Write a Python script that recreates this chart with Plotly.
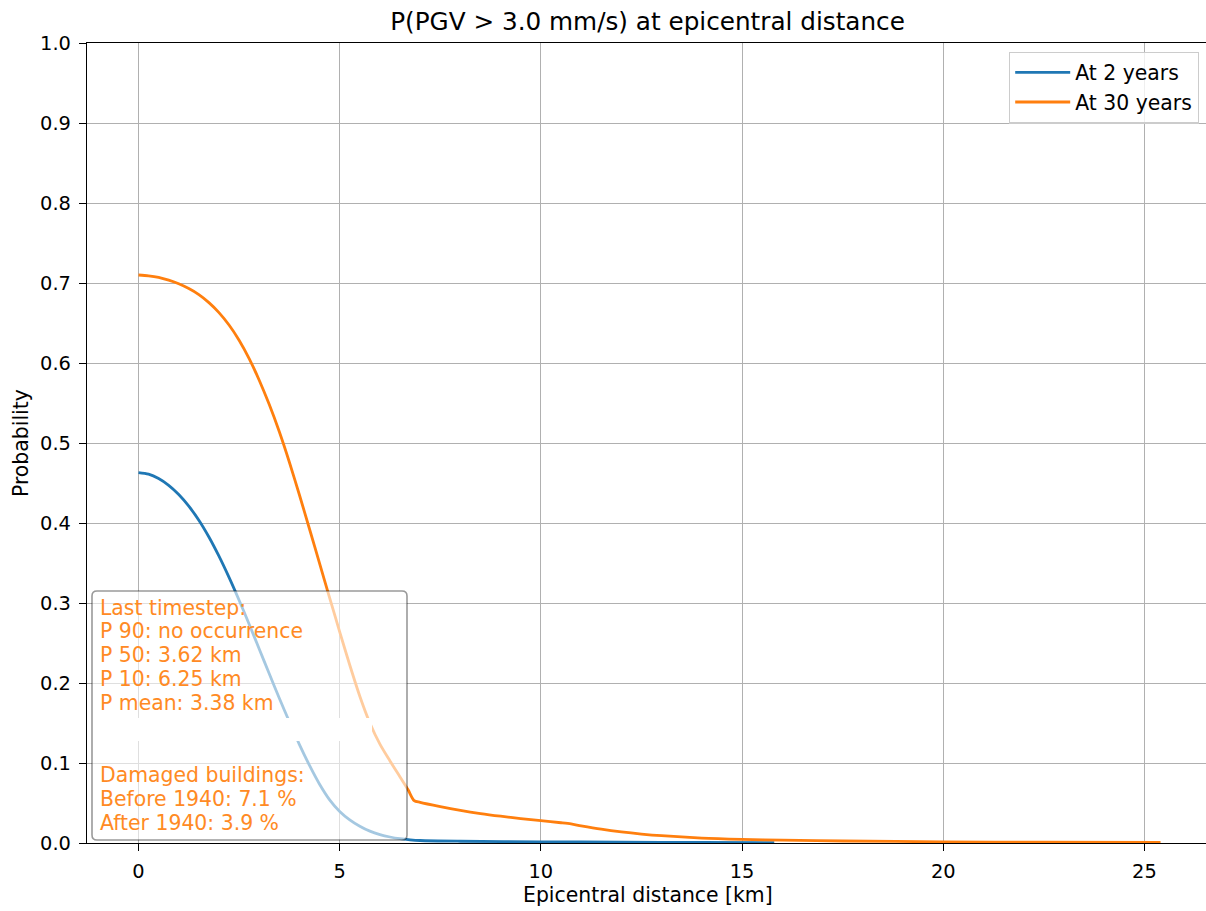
import plotly.graph_objects as go

# ---- data ----
distance_2y = [0, 0.25, 0.5, 0.75, 1.0, 1.25, 1.5, 1.75, 2.0, 2.25, 2.5, 2.75, 3.0, 3.25,
               3.5, 3.75, 4.0, 4.25, 4.5, 4.75, 5.0, 5.25, 5.5, 5.75, 6.0, 6.25, 6.5,
               6.75, 7.0, 8.0, 10.0, 12.0, 14.0, 15.8]
prob_2y = [0.463, 0.461, 0.4555, 0.447, 0.4355, 0.421, 0.4035, 0.3825, 0.3585, 0.332,
           0.3035, 0.2735, 0.2425, 0.2115, 0.181, 0.1515, 0.123, 0.097, 0.0735, 0.054,
           0.0395, 0.029, 0.021, 0.0148, 0.0105, 0.0075, 0.0054, 0.0040, 0.0031, 0.0022,
           0.0015, 0.0010, 0.0007, 0.0005]

distance_30y = [0, 0.25, 0.5, 0.75, 1.0, 1.25, 1.5, 1.75, 2.0, 2.25, 2.5, 2.75, 3.0, 3.25,
                3.5, 3.75, 4.0, 4.25, 4.5, 4.75, 5.0, 5.25, 5.5, 5.75, 6.0, 6.25, 6.5,
                6.7, 6.85, 7.0, 7.5, 8.0, 8.5, 9.0, 9.5, 10.0, 10.5, 10.75, 11.0, 11.5,
                12.0, 12.5, 13.0, 14.0, 15.0, 16.0, 17.5, 20.0, 22.5, 25.4]
prob_30y = [0.710, 0.709, 0.707, 0.7035, 0.699, 0.693, 0.6855, 0.6755, 0.663, 0.6475,
            0.6285, 0.6055, 0.5785, 0.548, 0.514, 0.476, 0.435, 0.3925, 0.3495, 0.3065,
            0.264, 0.2225, 0.1835, 0.150, 0.1235, 0.1025, 0.0825, 0.0665, 0.053, 0.0508,
            0.0455, 0.0408, 0.0368, 0.0335, 0.0306, 0.0279, 0.0253, 0.0238, 0.0215,
            0.0173, 0.0139, 0.0112, 0.0091, 0.0062, 0.0046, 0.0036, 0.0025, 0.0015,
            0.0010, 0.0007]

series_names = ["At 2 years", "At 30 years"]
x_ticks = [0, 5, 10, 15, 20, 25]
y_ticks = [0.0, 0.1, 0.2, 0.3, 0.4, 0.5, 0.6, 0.7, 0.8, 0.9, 1.0]

box_lines_top = ["Last timestep:", "P 90: no occurrence", "P 50: 3.62 km",
                 "P 10: 6.25 km", "P mean: 3.38 km"]
box_lines_bottom = ["Damaged buildings:", "Before 1940: 7.1 %", "After 1940: 3.9 %"]

title_text = "P(PGV > 3.0 mm/s) at epicentral distance"
x_label = "Epicentral distance [km]"
y_label = "Probability"

# ---- geometry (pixels) ----
W, H = 1206, 911
L, R, T, B = 87, 0, 43, 68
PW, PH = W - L - R, H - T - B


def px(xp):
    return (xp - L) / PW


def py(yp):
    return (H - B - yp) / PH


FONT = "DejaVu Sans"
FS_TICK = 19.4
FS = 20.4
BLUE = "#1f77b4"
ORANGE = "#ff7f0e"

fig = go.Figure()
fig.add_trace(go.Scatter(x=distance_2y, y=prob_2y, mode="lines", name=series_names[0],
                         line=dict(color=BLUE, width=2.8, shape="spline", smoothing=0.8)))
fig.add_trace(go.Scatter(x=distance_30y, y=prob_30y, mode="lines", name=series_names[1],
                         line=dict(color=ORANGE, width=2.8, shape="spline", smoothing=0.8)))

axis_common = dict(showgrid=True, gridcolor="#b0b0b0", gridwidth=1.2, zeroline=False,
                   showline=True, linecolor="black", linewidth=1.4,
                   ticks="outside", ticklen=7, tickwidth=1.4, tickcolor="black",
                   tickfont=dict(family=FONT, size=FS_TICK, color="black"))

fig.update_xaxes(range=[-1.28, 26.53], tickvals=x_ticks, mirror=True,
                 ticklabelstandoff=4, **axis_common)
fig.update_yaxes(range=[0, 1], tickvals=y_ticks, tickformat=".1f", mirror=False,
                 ticklabelstandoff=4, **axis_common)

# text box with rounded corners (semi-transparent white)
x0, x1 = px(92), px(407)
y0, y1 = py(840), py(591)
rx, ry = 5 / PW, 5 / PH
path = (f"M {x0+rx},{y0} L {x1-rx},{y0} Q {x1},{y0} {x1},{y0+ry} "
        f"L {x1},{y1-ry} Q {x1},{y1} {x1-rx},{y1} L {x0+rx},{y1} "
        f"Q {x0},{y1} {x0},{y1-ry} L {x0},{y0+ry} Q {x0},{y0} {x0+rx},{y0} Z")
shapes = [
    dict(type="path", xref="paper", yref="paper", path=path, layer="above",
         fillcolor="rgba(255,255,255,0.6)", line=dict(color="rgba(0,0,0,0.4)", width=1.6)),
    dict(type="rect", xref="paper", yref="paper", x0=px(96), x1=px(372),
         y0=py(741), y1=py(718), layer="above", fillcolor="white", line=dict(width=0)),
]

annotations = []
line_h = 23.9
first_center = 607.5
all_lines = box_lines_top + ["", ""] + box_lines_bottom
for i, txt in enumerate(all_lines):
    if not txt:
        continue
    annotations.append(dict(text=txt, xref="paper", yref="paper", x=px(97.5),
                            y=py(first_center + i * line_h), xanchor="left", yanchor="middle",
                            showarrow=False, align="left",
                            font=dict(family=FONT, size=FS, color="#ff8a24")))

annotations.append(dict(text=x_label, xref="paper", yref="paper", x=px(648), y=py(895),
                        xanchor="center", yanchor="middle", showarrow=False,
                        font=dict(family=FONT, size=FS, color="black")))
annotations.append(dict(text=y_label, xref="paper", yref="paper", x=px(21), y=py(443),
                        xanchor="center", yanchor="middle", showarrow=False, textangle=-90,
                        font=dict(family=FONT, size=FS, color="black")))

fig.update_layout(
    width=W, height=H, autosize=False,
    margin=dict(l=L, r=R, t=T, b=B, pad=0),
    paper_bgcolor="white", plot_bgcolor="white",
    font=dict(family=FONT, size=FS, color="black"),
    title=dict(text=title_text, xref="paper", x=px(647.5), xanchor="center",
               yref="container", y=1 - 21 / H, yanchor="middle",
               font=dict(family=FONT, size=24.7, color="black")),
    legend=dict(x=px(1199), xanchor="right", y=py(51.5), yanchor="top",
                bgcolor="rgba(255,255,255,0.8)", bordercolor="#cccccc", borderwidth=1.2,
                font=dict(family=FONT, size=FS, color="black"), itemwidth=55,
                tracegroupgap=0),
    showlegend=True,
    shapes=shapes,
    annotations=annotations,
)

fig.write_html("out.html")
